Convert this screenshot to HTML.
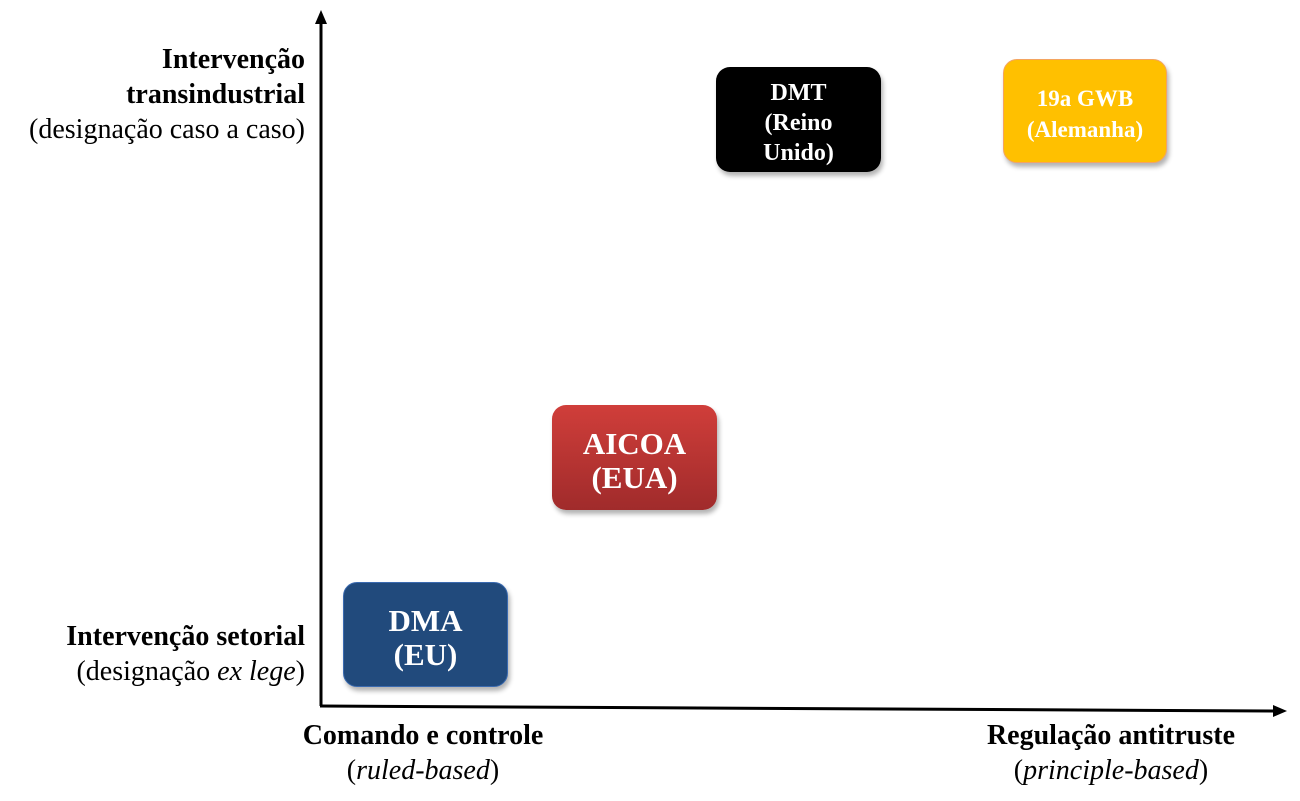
<!DOCTYPE html>
<html><head><meta charset="utf-8"><style>
body{margin:0;width:1300px;height:801px;background:#fff;position:relative;overflow:hidden;font-family:"Liberation Serif",serif;}
.t{position:absolute;font-size:28px;color:#000;line-height:35px;white-space:nowrap;}
.b{position:absolute;border-radius:14px;color:#fff;font-weight:bold;text-align:center;display:flex;align-items:center;justify-content:center;box-shadow:2px 4px 5px rgba(0,0,0,0.3);box-sizing:border-box;padding-top:6px;}
</style></head><body>
<svg width="1300" height="801" style="position:absolute;left:0;top:0">
<line x1="321" y1="22" x2="321" y2="706" stroke="#000" stroke-width="3"/>
<polygon points="321,10 315,24 327,24" fill="#000"/>
<line x1="320" y1="706" x2="1274" y2="711" stroke="#000" stroke-width="3"/>
<polygon points="1287,711 1273,705 1273,717" fill="#000"/>
</svg>
<div class="t" style="right:995px;top:42px;text-align:right;"><b>Intervenção<br>transindustrial</b><br>(designação caso a caso)</div>
<div class="t" style="right:995px;top:619px;text-align:right;"><b>Intervenção setorial</b><br>(designação <i>ex lege</i>)</div>
<div class="t" style="left:273px;width:300px;top:718px;text-align:center;"><b>Comando e controle</b><br>(<i>ruled-based</i>)</div>
<div class="t" style="left:961px;width:300px;top:718px;text-align:center;"><b>Regulação antitruste</b><br>(<i>principle-based</i>)</div>
<div class="b" style="left:716px;top:67px;width:165px;height:105px;background:#000;font-size:24px;line-height:30px;">DMT<br>(Reino<br>Unido)</div>
<div class="b" style="left:1003px;top:59px;width:164px;height:104px;background:#ffc000;border:1px solid #f4a460;font-size:23px;line-height:31px;">19a GWB<br>(Alemanha)</div>
<div class="b" style="left:552px;top:405px;width:165px;height:105px;background:linear-gradient(#d03e3a,#a02b2b);font-size:31px;line-height:34px;">AICOA<br>(EUA)</div>
<div class="b" style="left:343px;top:582px;width:165px;height:105px;background:#214a7c;border:1px solid #3a6ab0;font-size:31px;line-height:34px;">DMA<br>(EU)</div>
</body></html>
